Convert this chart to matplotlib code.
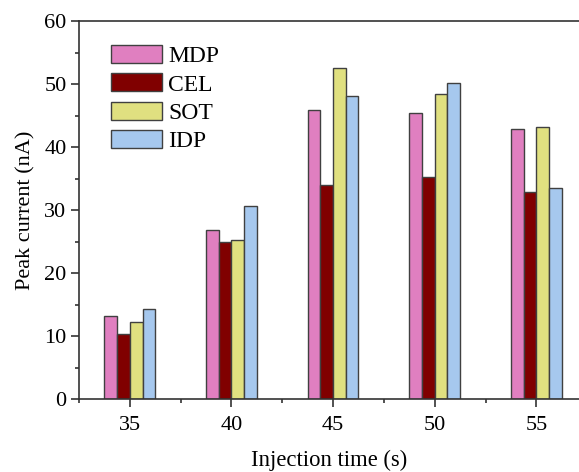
import matplotlib
matplotlib.use("Agg")
import matplotlib.pyplot as plt
from matplotlib.ticker import MultipleLocator, FixedLocator
import numpy as np

plt.rcParams['font.family'] = ['Liberation Serif', 'DejaVu Serif']

times = [35, 40, 45, 50, 55]
series_names = ["MDP", "CEL", "SOT", "IDP"]
mdp = [13.1, 26.9, 45.8, 45.4, 42.9]
cel = [10.3, 25.0, 33.9, 35.3, 32.8]
sot = [12.3, 25.2, 52.5, 48.4, 43.1]
idp = [14.3, 30.6, 48.1, 50.2, 33.5]
colors = ["#E07FC0", "#800000", "#E0E080", "#A6C8EE"]

fig = plt.figure(figsize=(5.79, 4.72), dpi=100)
ax = fig.add_axes([79/579, 73/472, 1 - 79/579, 378/472])

w = 0.625
x = np.array(times, dtype=float)
for i, (vals, c, name) in enumerate(zip([mdp, cel, sot, idp], colors, series_names)):
    ax.bar(x + (i - 1.5) * w, vals, width=w, color=c, edgecolor="#404040",
           linewidth=1.0, label=name, zorder=2)

ax.set_xlim(32.5, 57.1)
ax.set_ylim(0, 60)
ax.xaxis.set_major_locator(FixedLocator(times))
ax.xaxis.set_minor_locator(MultipleLocator(2.5))
ax.yaxis.set_major_locator(MultipleLocator(10))
ax.yaxis.set_minor_locator(MultipleLocator(5))
ax.spines['right'].set_visible(False)
for s in ['left', 'bottom', 'top']:
    ax.spines[s].set_linewidth(1.2)
    ax.spines[s].set_color('#333333')
ax.tick_params(which='major', direction='out', length=6, width=1.2, labelsize=16,
               pad=3, color='#333333')
ax.tick_params(which='minor', direction='out', length=3, width=1.2, color='#333333')
ax.tick_params(axis='x', which='major', pad=6)

ax.set_xlabel("Injection time (s)", fontsize=16.3, labelpad=11)
ax.set_ylabel("Peak current (nA)", fontsize=16, labelpad=6)

leg = ax.legend(loc='upper left', bbox_to_anchor=(110.5/579, 1 - 45/472),
                bbox_transform=fig.transFigure, frameon=False, fontsize=17,
                handlelength=2.16, handleheight=0.8, handletextpad=0.27,
                labelspacing=0.26, borderpad=0, borderaxespad=0)

fig.savefig("out.png", dpi=100)
